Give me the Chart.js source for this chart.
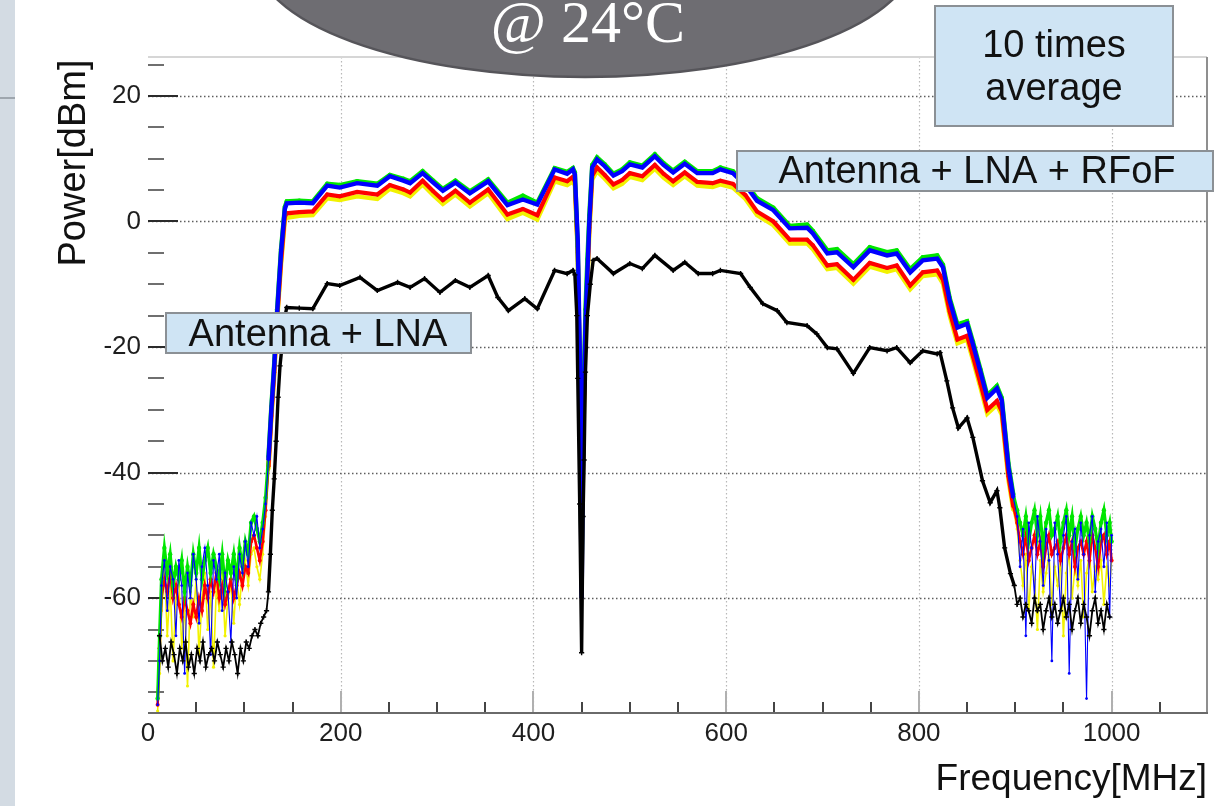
<!DOCTYPE html>
<html>
<head>
<meta charset="utf-8">
<script src="https://cdn.jsdelivr.net/npm/chart.js@4.4.1/dist/chart.umd.min.js"></script>
<style>
  html, body { margin: 0; padding: 0; background: #fff; }
  #wrap { width: 1229px; height: 806px; }
</style>
</head>
<body>
<div id="wrap"><canvas id="spectrum" width="1229" height="806"></canvas></div>
<script>
// frequency points [MHz] shared by the four "Antenna + LNA + RFoF" runs
const rfofFreq = [
  10, 12, 14, 17, 20, 23, 26, 29, 32, 35, 38, 41, 44, 47, 50, 53, 56, 59, 62, 65,
  68, 71, 74, 77, 80, 83, 86, 89, 92, 95, 98, 101, 104, 107, 110, 113, 116, 119, 122,
  125, 128, 131, 134, 138, 142,
  144, 157, 171, 186, 199, 217, 238, 251, 265, 272, 285, 296, 306, 319, 334, 353, 373, 389, 404, 422, 435, 441,
  443, 446, 448, 450, 452, 454, 456, 458, 461,
  466, 474, 483, 492, 500, 513, 526, 535, 545, 557, 570, 586, 594, 607, 620, 632, 649, 666, 684, 690,
  705, 715, 732, 749, 767, 777, 791, 804, 819, 825, 832, 840, 850, 856, 864, 871, 881, 886, 893, 898,
  902, 905, 908, 911, 914, 917, 920, 923, 926, 929, 932, 935, 938, 941, 944, 947, 950, 953, 956, 959,
  962, 965, 968, 971, 974, 977, 980, 983, 986, 989, 992, 995, 998, 1000
];

// power [dBm] of each run
const blueDbm = [
  -77, -70, -58, -54, -62, -55, -57, -66, -54, -58, -72, -56, -60, -53, -57, -64, -55, -52, -58, -69,
  -54, -57, -53, -62, -56, -59, -67, -55, -60, -53, -56, -51, -55, -48, -50, -47, -52, -49, -45,
  -38, -30, -23, -14.5, -5, 2,
  2.9, 3.0, 2.9, 5.7, 5.4, 6.1, 5.7, 7.2, 6.5, 6.1, 7.7, 6.2, 4.9, 6.2, 4.5, 6.4, 2.6, 3.5, 2.7, 8.3, 7.6, 8.3,
  7.5, -3, -20, -60, -30, -16, -8, 0, 8.6,
  9.9, 8.8, 7.3, 8.0, 9.1, 8.6, 10.4, 9.0, 7.8, 9.2, 7.7, 7.7, 8.3, 7.7, 5.8, 3.3, 1.8, -1.1, -1.0, -1.9,
  -5.1, -4.9, -7.3, -4.6, -5.4, -5.1, -8.1, -6.2, -5.9, -7.3, -12.6, -16.9, -16.3, -19.5, -24, -28.1, -26.6, -28.5, -39.2, -44.0,
  -47, -55, -49, -66, -48, -52, -60, -47, -51, -58, -49, -54, -70, -48, -53, -62, -50, -47, -72, -51,
  -49, -57, -48, -53, -76, -50, -47, -59, -51, -49, -55, -48, -63, -50
];

const greenDbm = [
  -76, -66, -57, -52, -56, -53, -58, -55, -57, -54, -59, -55, -58, -53, -56, -52, -57, -54, -52, -56,
  -53, -55, -57, -53, -58, -54, -56, -53, -57, -52, -55, -51, -53, -48, -47, -49, -51, -48, -44,
  -37.5, -29.5, -22.5, -14, -4.5, 2.3,
  3.2, 3.3, 3.2, 6.0, 5.8, 6.4, 6.0, 7.4, 6.8, 6.4, 8.0, 6.5, 5.2, 6.5, 4.8, 6.7, 3.0, 4.1, 3.0, 8.5, 7.9, 8.5,
  7.8, -4, -24, -56, -28, -14, -6, 1, 9.0,
  10.2, 9.1, 7.6, 8.3, 9.4, 8.9, 10.7, 9.3, 8.1, 9.5, 8.0, 8.0, 8.6, 8.0, 6.2, 3.7, 2.2, -0.7, -0.5, -1.5,
  -4.6, -4.4, -6.8, -4.1, -4.9, -4.6, -7.6, -5.7, -5.4, -6.9, -12.2, -16.4, -15.9, -19.1, -23.6, -27.7, -26.2, -28.1, -38.6, -43.5,
  -46, -48, -50, -47, -51, -48, -46, -50, -47, -52, -48, -46, -50, -49, -47, -51, -48, -46, -50, -47,
  -52, -49, -47, -50, -48, -51, -47, -49, -52, -48, -46, -50, -48, -51
];

const redDbm = [
  -77, -68, -60, -57, -59, -56, -60, -58, -61, -63, -60, -62, -64, -61, -63, -60, -62, -58, -60, -57,
  -59, -56, -60, -58, -61, -59, -57, -60, -58, -56, -58, -55, -56, -51, -50, -52, -54, -51, -46,
  -39, -31, -24, -15.5, -6.5, 0.8,
  1.3, 1.5, 1.6, 4.3, 4.0, 4.7, 4.3, 5.8, 5.1, 4.6, 6.5, 4.8, 3.4, 4.9, 3.0, 5.1, 1.1, 2.0, 1.0, 7.0, 6.4, 7.1,
  6.3, -5, -22, -55, -32, -17, -9, -1, 7.3,
  8.6, 7.4, 5.9, 6.6, 7.7, 7.2, 9.0, 7.6, 6.4, 7.8, 6.3, 6.1, 6.5, 6.0, 4.2, 1.6, 0.0, -2.9, -2.9, -3.8,
  -7.0, -6.8, -9.3, -6.6, -7.4, -7.0, -10.2, -8.1, -7.8, -9.3, -14.4, -18.8, -18.2, -21.4, -25.9, -30.0, -28.6, -30.2, -40.6, -45.4,
  -48, -51, -53, -50, -54, -52, -50, -53, -51, -55, -52, -50, -53, -52, -51, -54, -52, -50, -53, -51,
  -55, -52, -51, -53, -51, -54, -50, -52, -55, -51, -50, -53, -51, -54
];

const yellowDbm = [
  -78, -72, -62, -55, -66, -58, -70, -60, -57, -68, -61, -74, -59, -63, -57, -69, -60, -56, -65, -59,
  -71, -58, -62, -56, -66, -60, -58, -64, -57, -61, -56, -54, -58, -53, -52, -55, -57, -53, -47,
  -39.5, -31.5, -24.5, -16, -7, 0.2,
  0.6, 0.9, 1.0, 3.7, 3.4, 4.0, 3.6, 5.2, 4.5, 4.0, 5.9, 4.2, 2.8, 4.3, 2.4, 4.5, 0.4, 1.4, 0.3, 6.4, 5.8, 6.4,
  5.7, -5.5, -24, -58, -33, -18, -10, -2, 6.7,
  8.0, 6.8, 5.3, 6.0, 7.1, 6.6, 8.4, 7.0, 5.8, 7.2, 5.7, 5.5, 5.9, 5.4, 3.6, 1.0, -0.6, -3.5, -3.5, -4.4,
  -7.6, -7.4, -9.9, -7.2, -8.0, -7.6, -10.8, -8.7, -8.4, -9.9, -15.0, -19.4, -18.8, -22.0, -26.5, -30.6, -29.2, -30.8, -41.2, -46.0,
  -49, -54, -58, -53, -62, -55, -57, -65, -54, -59, -56, -53, -61, -55, -58, -54, -66, -56, -53, -60,
  -55, -58, -54, -63, -56, -53, -59, -55, -57, -54, -61, -55, -58, -54
];

// "Antenna + LNA" (black)
const lnaFreq = [
  12, 15, 18, 21, 24, 27, 30, 33, 36, 39, 42, 45, 48, 51, 54, 57, 60, 63, 66, 69,
  72, 75, 78, 81, 84, 87, 90, 93, 96, 99, 102, 105, 108, 111, 114, 117, 120, 123,
  125, 127, 129, 131, 133, 135, 137, 139, 141,
  144, 157, 171, 186, 199, 220, 238, 259, 272, 287, 303, 319, 334, 353, 363, 374, 391, 404, 422, 435, 441,
  443, 445, 446, 448, 450, 451.5, 452.6, 454, 456, 459, 462,
  466, 483, 500, 513, 526, 545, 557, 571, 586, 594, 615, 625, 638, 653, 663, 684, 694, 705, 715, 732,
  749, 767, 777, 791, 804, 819, 822, 829, 835, 841, 850, 856, 866, 874, 881, 884, 889, 895,
  899, 902, 905, 908, 911, 914, 917, 920, 923, 926, 929, 932, 935, 938, 941, 944, 947, 950, 953, 956,
  959, 962, 965, 968, 971, 974, 977, 980, 983, 986, 989, 992, 995, 998
];
const lnaDbm = [
  -66, -70, -68, -71, -67, -69, -72, -68, -70, -67, -71, -69, -72, -68, -70, -67, -71, -69, -68, -70,
  -67, -69, -71, -68, -70, -67, -69, -72, -68, -70, -67, -68, -66, -65, -66, -64, -63, -62,
  -59, -53, -46, -41, -35, -28, -23, -20, -16,
  -13.7, -13.8, -13.9, -9.9, -10.2, -8.9, -11.0, -9.7, -10.5, -9.1, -11.3, -9.4, -10.5, -8.6, -12.1, -14.2, -12.3, -13.9, -7.8, -8.3, -7.8,
  -8.5, -15, -25, -45, -68.7, -47, -38, -24, -15, -10, -6.2,
  -5.9, -8.3, -6.7, -7.5, -5.4, -7.8, -6.5, -8.3, -8.3, -7.8, -8.3, -10.5, -13.1, -14.2, -16.1, -16.6, -17.9, -20.1, -20.3, -24.2,
  -20.1, -20.6, -20.1, -22.5, -20.6, -21.1, -20.9, -25.4, -29.7, -32.9, -31.3, -34.4, -41.3, -44.8, -42.9, -45.6, -52, -56.1,
  -58, -61, -60, -63, -61, -62, -64, -60, -62, -61, -65, -62, -60, -63, -61, -64, -62, -60, -63, -61,
  -65, -62, -60, -64, -61, -63, -66, -62, -60, -64, -62, -65, -61, -63
];

// axes
const xRange = [0, 1099];
const yRange = [-78.3, 26.2];
const xTickValues = [0, 50, 100, 150, 200, 250, 300, 350, 400, 450, 500, 550, 600, 650, 700, 750, 800, 850, 900, 950, 1000, 1050];
const yTickValues = [-75, -70, -65, -60, -55, -50, -45, -40, -35, -30, -25, -20, -15, -10, -5, 0, 5, 10, 15, 20, 25];
const xLabelEvery = 200;
const yLabelEvery = 20;

const sans = '"Liberation Sans", Arial, sans-serif';

function pairs(xs, ys) {
  return xs.map((x, i) => ({ x: x, y: ys[i] }));
}

// noisy parts (below ~124 MHz, above ~900 MHz) are drawn thinner
function noisy(ctx) {
  return ctx.p0.parsed.x < 124 || ctx.p1.parsed.x > 900;
}

function run(label, ys, color, bandW, noiseW, dot) {
  return {
    label: label,
    data: pairs(rfofFreq, ys),
    borderColor: color,
    backgroundColor: color,
    borderWidth: bandW,
    pointRadius: dot,
    pointBorderWidth: 0,
    segment: { borderWidth: ctx => noisy(ctx) ? noiseW : undefined }
  };
}

function drawBox(ctx, x, y, w, h) {
  ctx.fillStyle = '#cfe4f4';
  ctx.fillRect(x, y, w, h);
  ctx.strokeStyle = '#8b9095';
  ctx.lineWidth = 2;
  ctx.strokeRect(x, y, w, h);
}

const decor = {
  id: 'decor',
  beforeDraw(chart) {
    const ctx = chart.ctx;
    ctx.save();
    ctx.fillStyle = '#ffffff';
    ctx.fillRect(0, 0, chart.width, chart.height);
    ctx.fillStyle = '#d3dbe3';
    ctx.fillRect(0, 0, 15, chart.height);
    ctx.strokeStyle = '#8d959d';
    ctx.lineWidth = 1.5;
    ctx.beginPath();
    ctx.moveTo(0, 98);
    ctx.lineTo(15, 98);
    ctx.stroke();
    ctx.restore();
  },
  beforeDatasetsDraw(chart) {
    const { ctx, chartArea: a, scales: { x, y } } = chart;
    ctx.save();
    // dotted grid
    ctx.setLineDash([1.5, 2.5]);
    ctx.strokeStyle = '#b8b8b8';
    ctx.lineWidth = 1.2;
    x.ticks.forEach(t => {
      if (t.value > 0 && t.value % xLabelEvery === 0) {
        const px = Math.round(x.getPixelForValue(t.value)) + 0.5;
        ctx.beginPath();
        ctx.moveTo(px, a.top);
        ctx.lineTo(px, a.bottom);
        ctx.stroke();
      }
    });
    ctx.strokeStyle = '#5e5e5e';
    ctx.lineWidth = 1.5;
    y.ticks.forEach(t => {
      if (t.value % yLabelEvery === 0) {
        const py = Math.round(y.getPixelForValue(t.value)) + 0.5;
        ctx.beginPath();
        ctx.moveTo(a.left, py);
        ctx.lineTo(a.right, py);
        ctx.stroke();
      }
    });
    ctx.setLineDash([]);
    // ticks drawn inside the frame, ROOT style
    ctx.lineWidth = 2;
    y.ticks.forEach(t => {
      const major = t.value % yLabelEvery === 0;
      const py = Math.round(y.getPixelForValue(t.value));
      ctx.strokeStyle = major ? '#2b2b2b' : '#6f6f6f';
      ctx.beginPath();
      ctx.moveTo(a.left, py);
      ctx.lineTo(a.left + (major ? 30 : 16), py);
      ctx.stroke();
    });
    x.ticks.forEach(t => {
      if (t.value === 0) return;
      const major = t.value % xLabelEvery === 0;
      const px = Math.round(x.getPixelForValue(t.value));
      ctx.strokeStyle = major ? '#b0b0b0' : '#454545';
      ctx.beginPath();
      ctx.moveTo(px, a.bottom);
      ctx.lineTo(px, a.bottom - (major ? 22 : 11));
      ctx.stroke();
    });
    ctx.restore();
  },
  afterDatasetsDraw(chart) {
    const { ctx, chartArea: a } = chart;
    ctx.save();
    // frame
    ctx.lineWidth = 2;
    ctx.strokeStyle = '#d6d6d6';
    ctx.beginPath(); ctx.moveTo(a.left, a.top); ctx.lineTo(a.right, a.top); ctx.stroke();
    ctx.strokeStyle = '#8f8f8f';
    ctx.beginPath(); ctx.moveTo(a.right, a.top); ctx.lineTo(a.right, a.bottom); ctx.stroke();
    ctx.strokeStyle = '#6a6a6a';
    ctx.beginPath(); ctx.moveTo(a.left, a.bottom); ctx.lineTo(a.right + 1, a.bottom); ctx.stroke();

    // axis titles
    ctx.fillStyle = '#111';
    ctx.font = '37px ' + sans;
    ctx.textAlign = 'right';
    ctx.textBaseline = 'alphabetic';
    ctx.fillText('Frequency[MHz]', a.right, 790);
    ctx.save();
    ctx.translate(85, 163);
    ctx.rotate(-Math.PI / 2);
    ctx.textAlign = 'center';
    ctx.font = '38px ' + sans;
    ctx.fillText('Power[dBm]', 0, 0);
    ctx.restore();

    // temperature bubble
    ctx.beginPath();
    ctx.ellipse(585, -43, 329, 120, 0, 0, Math.PI * 2);
    ctx.fillStyle = '#6e6d72';
    ctx.fill();
    ctx.lineWidth = 2.5;
    ctx.strokeStyle = '#56555a';
    ctx.stroke();
    ctx.fillStyle = '#ffffff';
    ctx.font = '60px "Liberation Serif", "DejaVu Serif", serif';
    ctx.textAlign = 'center';
    ctx.fillText('@ 24\u00b0C', 588, 42);

    // label boxes
    ctx.font = '38px ' + sans;
    drawBox(ctx, 935, 6, 238, 120);
    ctx.fillStyle = '#111';
    ctx.fillText('10 times', 1054, 57);
    ctx.fillText('average', 1054, 100);

    drawBox(ctx, 737, 151, 476, 40);
    ctx.fillStyle = '#111';
    ctx.fillText('Antenna + LNA + RFoF', 977, 183);

    drawBox(ctx, 166, 313, 305, 40);
    ctx.fillStyle = '#111';
    ctx.fillText('Antenna + LNA', 318, 346);
    ctx.restore();
  }
};

new Chart(document.getElementById('spectrum'), {
  type: 'line',
  data: {
    datasets: [
      {
        label: 'Antenna + LNA',
        data: pairs(lnaFreq, lnaDbm),
        borderColor: '#000000',
        backgroundColor: '#000000',
        borderWidth: 3.4,
        pointStyle: 'cross',
        pointRadius: 2.6,
        pointBorderWidth: 1.4,
        segment: { borderWidth: ctx => noisy(ctx) ? 1.8 : undefined }
      },
      run('RFoF run 1', blueDbm, '#0000ff', 4.4, 1.1, 1.4),
      run('RFoF run 2', greenDbm, '#00e600', 4.4, 3.2, 2.2),
      run('RFoF run 3', redDbm, '#ff0000', 4.2, 2.6, 2.0),
      run('RFoF run 4', yellowDbm, '#f2f200', 4.4, 1.6, 1.6)
    ]
  },
  options: {
    responsive: false,
    animation: false,
    layout: { padding: { top: 57, right: 22, left: 0, bottom: 0 } },
    plugins: { legend: { display: false }, tooltip: { enabled: false } },
    elements: { line: { tension: 0 } },
    scales: {
      x: {
        type: 'linear',
        min: xRange[0],
        max: xRange[1],
        grid: { display: false, drawTicks: false },
        border: { display: false },
        afterBuildTicks: s => { s.ticks = xTickValues.map(v => ({ value: v })); },
        ticks: {
          autoSkip: false,
          maxRotation: 0,
          padding: 5,
          color: '#1e1e1e',
          font: { family: sans, size: 26 },
          callback: v => (v % xLabelEvery === 0 ? String(v) : '')
        },
        afterFit: s => { s.height = 93; }
      },
      y: {
        type: 'linear',
        min: yRange[0],
        max: yRange[1],
        grid: { display: false, drawTicks: false },
        border: { display: false },
        afterBuildTicks: s => { s.ticks = yTickValues.map(v => ({ value: v })); },
        ticks: {
          autoSkip: false,
          padding: 7,
          color: '#1e1e1e',
          font: { family: sans, size: 26 },
          callback: v => (v % yLabelEvery === 0 ? String(v) : '')
        },
        afterFit: s => { s.width = 148; }
      }
    }
  },
  plugins: [decor]
});
</script>
</body>
</html>
